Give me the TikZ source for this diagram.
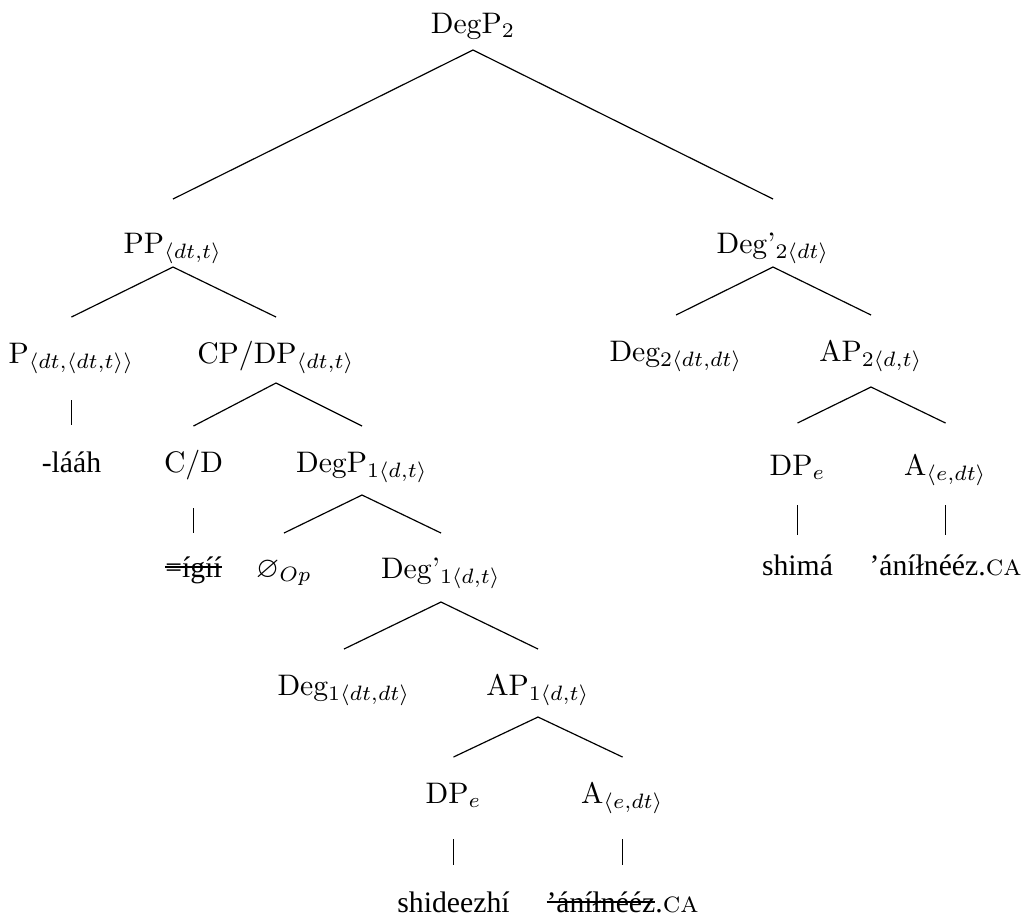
\documentclass[tikz,border=0pt]{standalone}
\usepackage{amssymb}
\usepackage{fontspec}
\newfontfamily\leaffont{Liberation Serif}
\usetikzlibrary{calc}
% struck-through text
\newcommand\strike[1]{\leavevmode\setbox0=\hbox{#1}%
  \rlap{\raisebox{3.2pt}{\rule{\wd0}{0.45pt}}}\box0}
% branch: start #3 below the parent's baseline, stop #4 above the child's baseline
\newcommand\branch[4]{\draw ($(#1.base)+(0,#3)$) -- ($(#2.base)+(0,-#4)$);}
\begin{document}
\begin{tikzpicture}[x=0.3367pt,y=-0.3367pt,line width=0.4pt,
  cat/.style={anchor=base,inner sep=0pt},
  word/.style={anchor=base,inner sep=0pt,font=\leaffont}]
\useasboundingbox (0,0) rectangle (1035,918);

% categories
\node[cat] (root)  at (473,33)  {DegP$_2$};
\node[cat] (pp)    at (173,253) {PP$_{\langle dt,t\rangle}$};
\node[cat] (degb2) at (773,253) {Deg'$_{2\langle dt\rangle}$};
\node[cat] (p)     at (71.5,363) {P$_{\langle dt,\langle dt,t\rangle\rangle}$};
\node[cat] (cpdp)  at (276,363) {CP/DP$_{\langle dt,t\rangle}$};
\node[cat] (deg2)  at (676,361) {Deg$_{2\langle dt,dt\rangle}$};
\node[cat] (ap2)   at (871,361) {AP$_{2\langle d,t\rangle}$};
\node[cat] (cd)    at (193.5,472) {C/D};
\node[cat] (degp1) at (362,472) {DegP$_{1\langle d,t\rangle}$};
\node[cat] (dpe2)  at (797.5,475) {DP$_e$};
\node[cat] (a2)    at (945.5,475) {A$_{\langle e,dt\rangle}$};
\node[cat] (op)    at (284,577) {$\varnothing_{Op}$};
\node[cat] (degb1) at (441,578) {Deg'$_{1\langle d,t\rangle}$};
\node[cat] (deg1)  at (344,695) {Deg$_{1\langle dt,dt\rangle}$};
\node[cat] (ap1)   at (538,695) {AP$_{1\langle d,t\rangle}$};
\node[cat] (dpe1)  at (453.5,803) {DP$_e$};
\node[cat] (a1)    at (622.5,803) {A$_{\langle e,dt\rangle}$};

% words
\node[word] (laah)   at (71.5,472) {-lááh};
\node[word] (igii)   at (193.5,577)  {\strike{=ígíí}};
\node[word] (shima)  at (797.5,575)  {shimá};
\node[word] (aniln2) at (945.5,575)  {’áníłnééz.{\rmfamily\scshape ca}};
\node[word] (shid)   at (453.5,912)  {shideezhí};
\node[word] (aniln1) at (622.5,912)  {\strike{’áníłnééz}.{\rmfamily\scshape ca}};

% branching edges
\branch{root}{pp}{17}{54}
\branch{root}{degb2}{17}{54}
\branch{pp}{p}{14}{46}
\branch{pp}{cpdp}{14}{46}
\branch{degb2}{deg2}{14}{46}
\branch{degb2}{ap2}{14}{46}
\branch{cpdp}{cd}{20}{46}
\branch{cpdp}{degp1}{20}{46}
\branch{ap2}{dpe2}{26}{52}
\branch{ap2}{a2}{26}{52}
\branch{degp1}{op}{23}{44}
\branch{degp1}{degb1}{23}{45}
\branch{degb1}{deg1}{24}{46}
\branch{degb1}{ap1}{24}{46}
\branch{ap1}{dpe1}{22}{46}
\branch{ap1}{a1}{22}{46}
% unary edges down to the words
\branch{p}{laah}{37}{47}
\branch{cd}{igii}{36}{44}
\branch{dpe2}{shima}{30}{40}
\branch{a2}{aniln2}{30}{40}
\branch{dpe1}{shid}{36}{47}
\branch{a1}{aniln1}{36}{47}
\end{tikzpicture}
\end{document}
